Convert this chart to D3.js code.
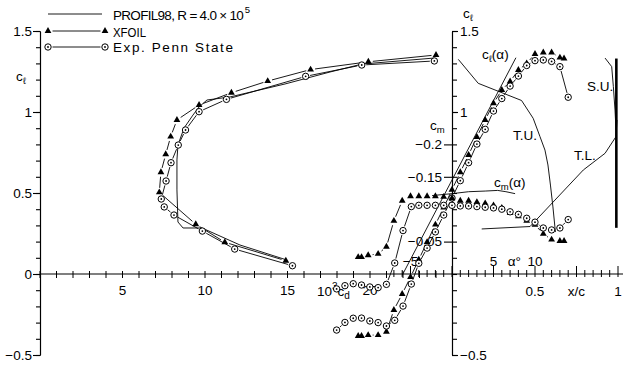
<!DOCTYPE html>
<html>
<head>
<script src="https://d3js.org/d3.v7.min.js"></script>
<style>
  body { margin: 0; background: #fff; }
  svg text { font-family: "Liberation Sans", Arial, sans-serif; fill: #000; }
</style>
</head>
<body>
<div id="chart"></div>
<script>
// drag polar: c_l over 10^3 c_d
const polarProfilCd = [14.85, 12.12, 9.82, 8.67, 8.36, 8.30, 8.30, 8.36, 8.73, 9.27, 9.64, 10.12, 11.52, 14.85, 17.58, 19.52, 23.88];
const polarProfilCl = [0.090, 0.179, 0.284, 0.284, 0.321, 0.519, 0.704, 0.796, 0.901, 0.981, 1.031, 1.074, 1.093, 1.173, 1.247, 1.296, 1.333];
const polarXfoilCd = [14.9, 11.2, 9.44, 7.23, 7.33, 7.62, 7.92, 8.3, 9.64, 11.6, 13.8, 16.4, 19.9, 24.0];
const polarXfoilCl = [0.082, 0.196, 0.307, 0.504, 0.628, 0.739, 0.848, 0.951, 1.043, 1.119, 1.191, 1.262, 1.31, 1.352];
const polarExpCd = [15.3, 11.8, 9.84, 8.12, 7.53, 7.35, 7.64, 7.94, 8.38, 8.82, 9.64, 11.3, 16.1, 19.5, 23.9];
const polarExpCl = [0.051, 0.154, 0.265, 0.364, 0.414, 0.463, 0.574, 0.687, 0.796, 0.889, 1.002, 1.078, 1.22, 1.29, 1.315];

// c_l(alpha) and c_m(alpha)
const alphaXfoil = [-11.3, -10.9, -10.1, -8.9, -7.9, -7, -6, -5, -4, -3, -2, -1, 0, 1, 2, 3, 4, 5, 6, 7, 8, 9, 10, 11, 12, 13, 13.5];
const clXfoil = [-0.383, -0.383, -0.377, -0.377, -0.356, -0.222, -0.123, -0.019, 0.089, 0.197, 0.305, 0.41, 0.52, 0.628, 0.735, 0.846, 0.951, 1.054, 1.136, 1.188, 1.259, 1.30, 1.358, 1.367, 1.367, 1.336, 1.33];
const cmXfoil = [-0.026, -0.026, -0.029, -0.031, -0.042, -0.082, -0.113, -0.12, -0.12, -0.12, -0.12, -0.119, -0.117, -0.113, -0.113, -0.111, -0.109, -0.106, -0.102, -0.094, -0.089, -0.082, -0.076, -0.062, -0.053, -0.051, -0.051];

const alphaExp = [-13.9, -12.9, -11.9, -10.9, -9.9, -8.9, -7.9, -6.9, -5.9, -4.9, -4, -3, -2, -1, 0, 1, 2, 3, 4, 5, 6, 7, 8, 9, 10, 11, 12, 13, 14];
const clExp = [-0.346, -0.299, -0.273, -0.272, -0.29, -0.30, -0.321, -0.286, -0.198, -0.062, 0.066, 0.16, 0.26, 0.364, 0.469, 0.576, 0.687, 0.802, 0.893, 1.006, 1.083, 1.16, 1.222, 1.287, 1.317, 1.321, 1.312, 1.28, 1.091];
const cmExp = [0.023, 0.018, 0.015, 0.017, 0.020, 0.021, 0.016, -0.017, -0.067, -0.104, -0.106, -0.106, -0.106, -0.106, -0.106, -0.105, -0.105, -0.104, -0.103, -0.102, -0.1, -0.096, -0.092, -0.086, -0.08, -0.071, -0.068, -0.071, -0.084];

const alphaProfilCl = [-6, 7.7];
const clProfil = [-0.008, 1.335];
const alphaProfilCm = [-2.4, 0, 2, 4, 5.5, 6.5, 7.6];
const cmProfil = [-0.121, -0.124, -0.127, -0.128, -0.129, -0.127, -0.124];

// transition / separation over x/c
const transUpperXc = [0.038, 0.158, 0.419, 0.489, 0.53, 0.56, 0.578, 0.593, 0.608, 0.623];
const transUpperCl = [1.325, 1.177, 1.071, 0.961, 0.848, 0.765, 0.673, 0.549, 0.414, 0.259];
const transLowerXc = [0.179, 0.47, 0.791, 0.922, 0.988, 0.994];
const transLowerCl = [0.278, 0.293, 0.642, 0.745, 0.848, 0.951];
const sepUpperXc = [0.922, 0.962, 0.972, 0.982, 0.988];
const sepUpperCl = [1.333, 1.28, 1.157, 1.012, 0.889];
const sepBarXc = [0.99, 0.99];
const sepBarCl = [0.285, 1.33];

// ticks
const clMinor = d3.range(-5, 16).map(d => d / 10);
const clMajorLeft = [-0.5, 0, 0.5, 1, 1.5];
const clMajorRight = [-0.5, 1, 1.5];
const cmTicks = [-0.2, -0.15, -0.05];
const cdTicks = d3.range(0, 25);
const cdLabels = [5, 10, 15, 20];
const alphaTicks = d3.range(-7, 21);
const alphaLabels = [-5, 5, 10];
const xcLabels = [0.5, 1];

const W = 623, H = 366;
const svg = d3.select("#chart").append("svg")
  .attr("width", W).attr("height", H).attr("viewBox", [0, 0, W, H]);

const clY = d3.scaleLinear([-0.5, 1.5], [355, 31]);
const cdX = d3.scaleLinear([0, 25], [40, 452.5]);
const alphaX = d3.scaleLinear([0, 10], [452, 535]);
const cmY = d3.scaleLinear([0, -0.2], [274, 144.4]);
const xcX = d3.scaleLinear([0, 1], [452, 618]);
const fmt = d3.format("~g");
const FS = "13.5px";

function styleAxis(g) {
  g.attr("font-family", null).attr("font-size", FS);
  g.selectAll("line, path").attr("stroke", "#000").attr("stroke-width", 1.1);
}

// left c_l axis
svg.append("g").attr("transform", "translate(40,0)")
  .call(d3.axisLeft(clY).tickValues(clMinor).tickSize(4).tickSizeOuter(0).tickFormat(""))
  .call(styleAxis);
svg.append("g").attr("transform", "translate(40,0)")
  .call(d3.axisLeft(clY).tickValues(clMajorLeft).tickSize(7).tickPadding(1).tickSizeOuter(0).tickFormat(fmt))
  .call(styleAxis);

// right c_l axis and c_m labels
svg.append("g").attr("transform", "translate(452,0)")
  .call(d3.axisRight(clY).tickValues(clMinor).tickSize(5).tickSizeOuter(0).tickFormat(""))
  .call(styleAxis);
svg.append("g").attr("transform", "translate(452,0)")
  .call(d3.axisRight(clY).tickValues(clMajorRight).tickSize(6).tickPadding(2).tickSizeOuter(0).tickFormat(fmt))
  .call(styleAxis);
svg.append("g").attr("transform", "translate(452,0)")
  .call(d3.axisLeft(cmY).tickValues(cmTicks).tickSize(8).tickPadding(2).tickFormat(fmt))
  .call(g => g.select(".domain").remove())
  .call(styleAxis);

// horizontal axis
svg.append("line").attr("x1", cdX(0)).attr("x2", W).attr("y1", clY(0)).attr("y2", clY(0))
  .attr("stroke", "#000").attr("stroke-width", 1.1);
svg.append("g").selectAll("line").data(cdTicks).join("line")
  .attr("x1", d => cdX(d)).attr("x2", d => cdX(d))
  .attr("y1", clY(0) - 3).attr("y2", clY(0) + 4)
  .attr("stroke", "#000").attr("stroke-width", 1);
svg.append("g").selectAll("line").data(alphaTicks).join("line")
  .attr("x1", d => alphaX(d)).attr("x2", d => alphaX(d))
  .attr("y1", d => clY(0) - (d % 5 === 0 ? 8 : 4)).attr("y2", clY(0) + 3)
  .attr("stroke", "#000").attr("stroke-width", 1);

const labels = svg.append("g").attr("font-size", FS);
labels.selectAll(".cdl").data(cdLabels).join("text")
  .attr("x", d => cdX(d)).attr("y", 295).attr("text-anchor", "middle").text(d => d);
labels.selectAll(".al").data(alphaLabels).join("text")
  .attr("x", d => alphaX(d)).attr("y", 266).attr("text-anchor", "middle").text(fmt);
labels.append("text").attr("x", alphaX(7.5)).attr("y", 266).attr("text-anchor", "middle").text("α°");
labels.selectAll(".xl").data(xcLabels).join("text")
  .attr("x", d => xcX(d)).attr("y", 296).attr("text-anchor", "middle").text(d => d);
labels.append("text").attr("x", xcX(0.75)).attr("y", 296).attr("text-anchor", "middle").text("x/c");

// 10^3 c_d
const cdLab = labels.append("text").attr("x", 317).attr("y", 296);
cdLab.append("tspan").text("10");
cdLab.append("tspan").attr("dy", -6).attr("font-size", "10px").text("3");
cdLab.append("tspan").attr("dy", 6).text("c");
cdLab.append("tspan").attr("dy", 3).attr("font-size", "10px").text("d");

function subLabel(x, y, main, sub, tail) {
  const t = labels.append("text").attr("x", x).attr("y", y);
  t.append("tspan").text(main);
  t.append("tspan").attr("dy", 3).attr("font-size", "9.5px").text(sub);
  if (tail) t.append("tspan").attr("dy", -3).text(tail);
}
subLabel(16, 81, "c", "ℓ");
subLabel(463, 18, "c", "ℓ");
subLabel(430, 130, "c", "m");
subLabel(482, 59, "c", "ℓ", "(α)");
subLabel(494, 187, "c", "m", "(α)");
labels.append("text").attr("x", 513).attr("y", 140).text("T.U.");
labels.append("text").attr("x", 574).attr("y", 160).text("T.L.");
labels.append("text").attr("x", 587).attr("y", 91).text("S.U.");

// series helpers
const tri = d3.symbol(d3.symbolTriangle).size(20);
function gapSegments(pts, gap) {
  const segs = [];
  for (let i = 1; i < pts.length; i++) {
    const [x0, y0] = pts[i - 1], [x1, y1] = pts[i];
    const L = Math.hypot(x1 - x0, y1 - y0);
    if (L <= 2 * gap + 0.5) continue;
    const ux = (x1 - x0) / L, uy = (y1 - y0) / L;
    segs.push([x0 + ux * gap, y0 + uy * gap, x1 - ux * gap, y1 - uy * gap]);
  }
  return segs;
}
function markers(g, pts, kind) {
  if (kind === "tri") {
    g.selectAll(null).data(pts).join("path")
      .attr("d", tri).attr("transform", d => `translate(${d[0]},${d[1]})`)
      .attr("fill", "#000");
  } else {
    g.selectAll(null).data(pts).join("circle")
      .attr("cx", d => d[0]).attr("cy", d => d[1]).attr("r", 3.2)
      .attr("fill", "#fff").attr("stroke", "#000").attr("stroke-width", 1);
    g.selectAll(null).data(pts).join("circle")
      .attr("cx", d => d[0]).attr("cy", d => d[1]).attr("r", 0.9).attr("fill", "#000");
  }
}
function series(xs, ys, sx, sy, kind) {
  const pts = xs.map((v, i) => [sx(v), sy(ys[i])]);
  const g = svg.append("g");
  g.selectAll("line").data(gapSegments(pts, 4.5)).join("line")
    .attr("x1", d => d[0]).attr("y1", d => d[1]).attr("x2", d => d[2]).attr("y2", d => d[3])
    .attr("stroke", "#000").attr("stroke-width", 0.9);
  markers(g, pts, kind);
}
function curve(xs, ys, sx, sy, w) {
  svg.append("path")
    .datum(xs.map((v, i) => [sx(v), sy(ys[i])]))
    .attr("d", d3.line())
    .attr("fill", "none").attr("stroke", "#000").attr("stroke-width", w || 0.9);
}

// PROFIL98 curves
curve(polarProfilCd, polarProfilCl, cdX, clY);
curve(alphaProfilCl, clProfil, alphaX, clY);
curve(alphaProfilCm, cmProfil, alphaX, cmY);
curve(transUpperXc, transUpperCl, xcX, clY);
curve(transLowerXc, transLowerCl, xcX, clY);
curve(sepUpperXc, sepUpperCl, xcX, clY);
curve(sepBarXc, sepBarCl, xcX, clY, 2.6);

// XFOIL and experiment
series(polarXfoilCd, polarXfoilCl, cdX, clY, "tri");
series(polarExpCd, polarExpCl, cdX, clY, "circ");
series(alphaXfoil, clXfoil, alphaX, clY, "tri");
series(alphaExp, clExp, alphaX, clY, "circ");
series(alphaXfoil, cmXfoil, alphaX, cmY, "tri");
series(alphaExp, cmExp, alphaX, cmY, "circ");

// legend
const lg = svg.append("g");
lg.append("line").attr("x1", 48).attr("x2", 102).attr("y1", 14).attr("y2", 14)
  .attr("stroke", "#000").attr("stroke-width", 0.9);
[[31, "tri"], [47, "circ"]].forEach(([y, kind]) => {
  const pts = [[48, y], [105, y]];
  lg.selectAll(null).data(gapSegments(pts, 4.5)).join("line")
    .attr("x1", d => d[0]).attr("y1", d => d[1]).attr("x2", d => d[2]).attr("y2", d => d[3])
    .attr("stroke", "#000").attr("stroke-width", 0.9);
  markers(lg, pts, kind);
});
const profLab = lg.append("text").attr("x", 113).attr("y", 19.5).attr("font-size", FS)
  .attr("letter-spacing", "-0.7px");
profLab.append("tspan").text("PROFIL98, R = 4.0 × 10");
profLab.append("tspan").attr("dx", 1.5).attr("dy", -7).attr("font-size", "9.5px").text("5");
lg.append("text").attr("x", 113).attr("y", 36.5).attr("font-size", FS)
  .attr("textLength", 33).attr("lengthAdjust", "spacingAndGlyphs").text("XFOIL");
lg.append("text").attr("x", 113).attr("y", 52).attr("font-size", FS)
  .attr("letter-spacing", "1.6px").text("Exp. Penn State");
</script>
</body>
</html>
